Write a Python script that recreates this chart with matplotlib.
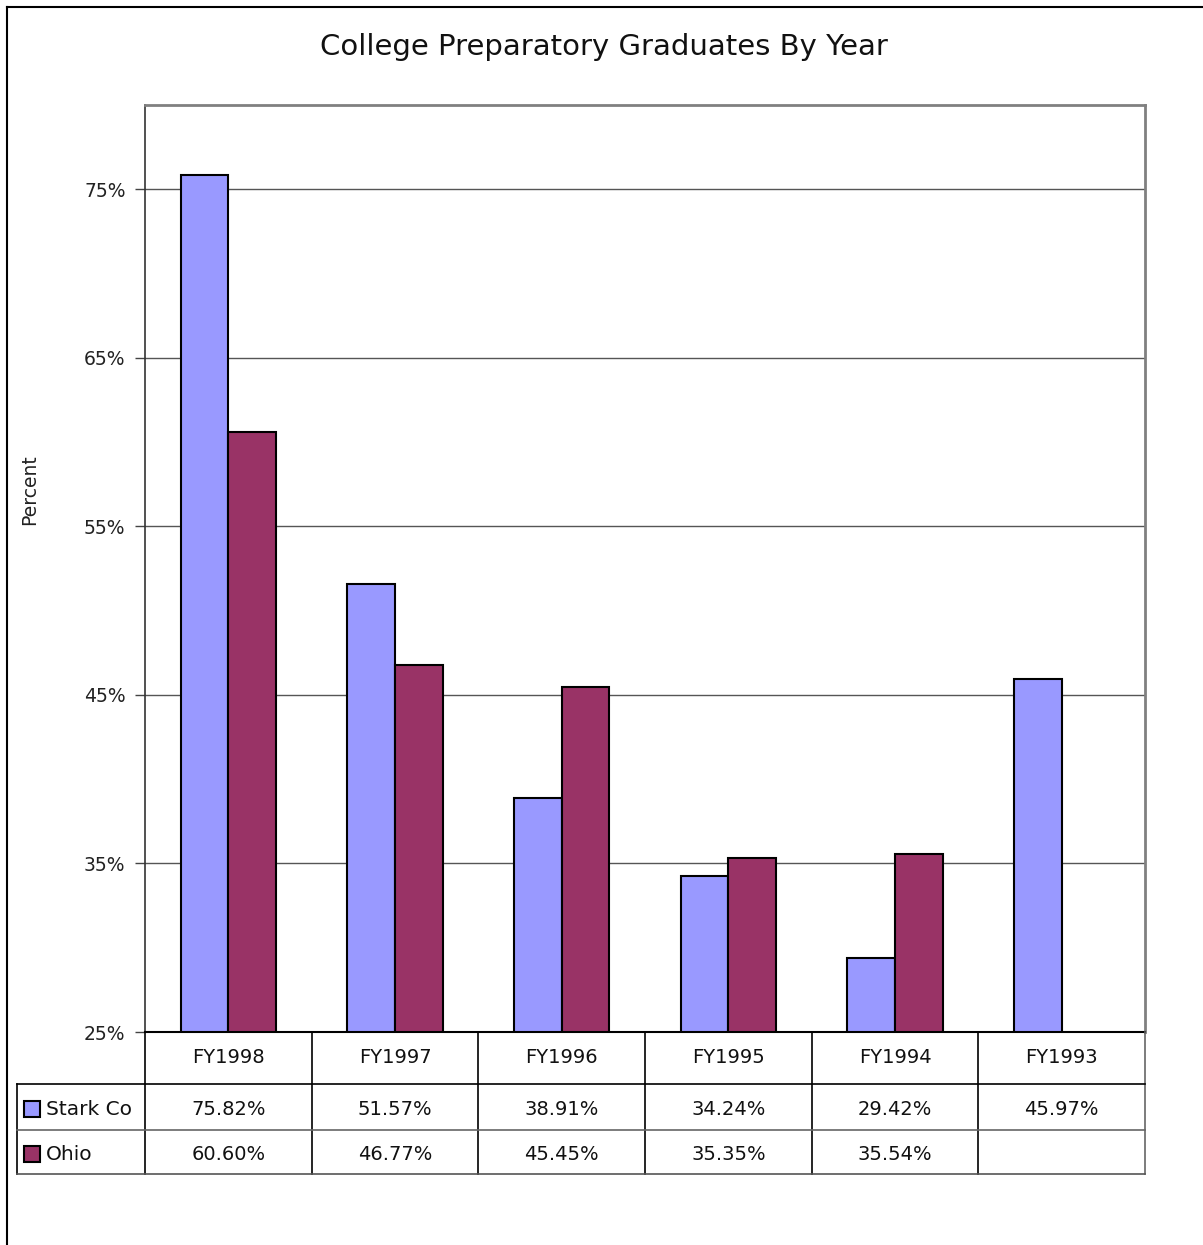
import numpy as np
import matplotlib.pyplot as plt
from matplotlib.lines import Line2D
from matplotlib.patches import Rectangle

# Data
years = ["FY1998", "FY1997", "FY1996", "FY1995", "FY1994", "FY1993"]
stark = [75.82, 51.57, 38.91, 34.24, 29.42, 45.97]
ohio = [60.60, 46.77, 45.45, 35.35, 35.54, None]
series_names = ["Stark Co", "Ohio"]
series_colors = ["#9999FF", "#993366"]
yticks = [25, 35, 45, 55, 65, 75]

W, H = 1203, 1245
fig = plt.figure(figsize=(W / 100, H / 100), dpi=100)
plt.rcParams['font.family'] = ['DejaVu Sans']


def fx(px):
    return px / W


def fy(py):
    return 1 - py / H


# outer chart border (runs off the right and bottom edges)
fig.add_artist(Line2D([fx(7), 1], [fy(7), fy(7)], color="black", lw=1.5))
fig.add_artist(Line2D([fx(7), fx(7)], [fy(7), 0], color="black", lw=1.5))

# plot area
left, right, top, bottom = 145, 1145, 105, 1032
ax = fig.add_axes([fx(left), fy(bottom), fx(right - left), (bottom - top) / H])

x = np.arange(len(years))
w = 1 / 3.5
for vals, off, col in [(stark, -w / 2, series_colors[0]), (ohio, w / 2, series_colors[1])]:
    xs = [xi + off for xi, v in zip(x, vals) if v is not None]
    hs = [v - 25 for v in vals if v is not None]
    ax.bar(xs, hs, width=w, bottom=25, color=col, edgecolor="black", linewidth=1.5, zorder=3)

ax.set_xlim(-0.5, len(years) - 0.5)
ax.set_ylim(25, 80)
ax.set_yticks(yticks)
ax.set_yticklabels([f"{t}%" for t in yticks], fontsize=13.5, color="#222222")
ax.set_xticks([])
ax.tick_params(axis="y", direction="out", length=7, width=1, color="#444444", pad=7)
ax.yaxis.grid(True, color="#555555", lw=1, zorder=0)
ax.set_axisbelow(True)
ax.spines["left"].set_color("#333333")
ax.spines["left"].set_linewidth(1.2)
ax.spines["bottom"].set_color("black")
ax.spines["bottom"].set_linewidth(1.5)
for s in ("top", "right"):
    ax.spines[s].set_color("#808080")
    ax.spines[s].set_linewidth(2)

ax.set_ylabel("Percent", fontsize=13.5, color="#222222")
ax.yaxis.set_label_coords(-0.106, (bottom - 490) / (bottom - top))

fig.text(fx(604), fy(47), "College Preparatory Graduates By Year",
         ha="center", va="center", fontsize=21, color="#111111")

# data table underneath the plot area
tl, tr = 17, 1145
row_edges = [1032, 1084, 1130, 1174]
ppu = (right - left) / len(years)
tax = fig.add_axes([fx(tl), fy(row_edges[-1]), fx(tr - tl), (row_edges[-1] - row_edges[0]) / H])
tax.set_xlim(-0.5 - (left - tl) / ppu, len(years) - 0.5)
tax.set_ylim(row_edges[-1], row_edges[0])
tax.axis("off")
x0 = -0.5 - (left - tl) / ppu
xr = len(years) - 0.5

lkw = dict(color="black", lw=1.2, clip_on=False)
for i in range(len(years) + 1):
    xe = i - 0.5
    c = "#666666" if i == len(years) else "black"
    tax.plot([xe, xe], [row_edges[0], row_edges[-1]], **dict(lkw, color=c))
tax.plot([x0, x0], [row_edges[1], row_edges[-1]], **lkw)
tax.plot([x0, xr], [row_edges[1], row_edges[1]], **lkw)
tax.plot([x0, xr], [row_edges[2], row_edges[2]], **dict(lkw, color="#666666"))
tax.plot([x0, xr], [row_edges[3], row_edges[3]], **dict(lkw, color="#555555"))

ymid = [(row_edges[k] + row_edges[k + 1]) / 2 for k in range(3)]
for i, yr in enumerate(years):
    tax.text(i, ymid[0], yr, ha="center", va="center", fontsize=14, color="#111111")
for r, (vals, name, col) in enumerate(zip([stark, ohio], series_names, series_colors)):
    yc = ymid[r + 1]
    for i, v in enumerate(vals):
        if v is not None:
            tax.text(i, yc + 3, f"{v:.2f}%", ha="center", va="center", fontsize=14, color="#111111")
    kw = 16 / ppu
    tax.add_patch(Rectangle((x0 + 7 / ppu, yc - 6), kw, 16, facecolor=col,
                            edgecolor="black", lw=1.5, clip_on=False))
    tax.text(x0 + 29 / ppu, yc + 3, name, ha="left", va="center", fontsize=14.5, color="#111111")

fig.savefig("out.png", dpi=100)
